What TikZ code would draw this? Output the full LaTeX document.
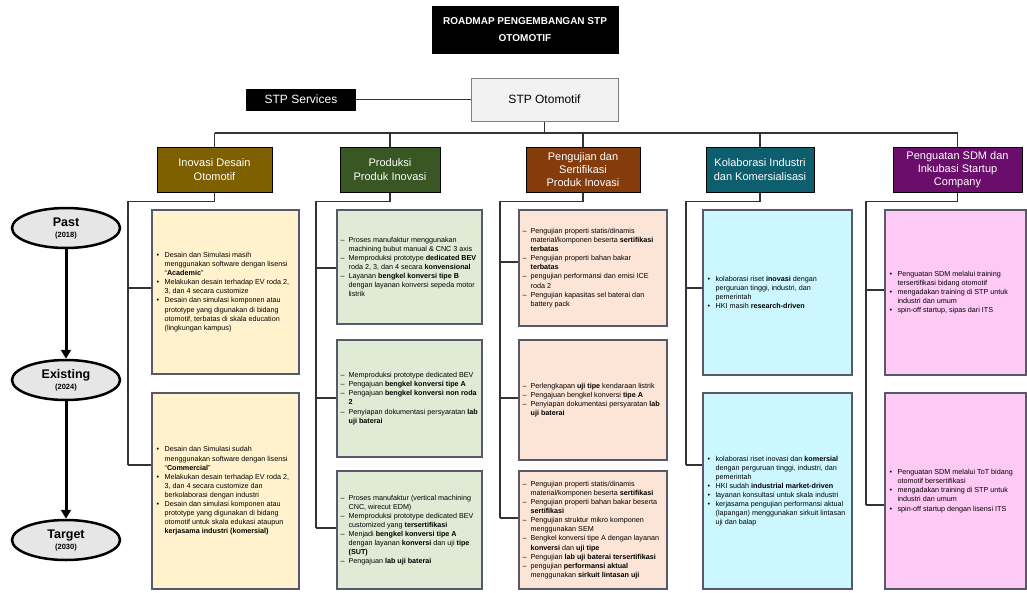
\documentclass[tikz,border=0pt]{standalone}
\usepackage{fontspec}
\setmainfont{Liberation Sans}
\usetikzlibrary{arrows.meta,shapes.geometric,calc}
\definecolor{linec}{HTML}{333333}
\definecolor{boxline}{HTML}{55596A}
\definecolor{hA}{HTML}{7F6000}
\definecolor{hB}{HTML}{385723}
\definecolor{hC}{HTML}{843C0C}
\definecolor{hD}{HTML}{0E5F6E}
\definecolor{hE}{HTML}{6B0E6B}
\definecolor{fA}{HTML}{FFF2CC}
\definecolor{fB}{HTML}{E0EBD6}
\definecolor{fC}{HTML}{FCE4D6}
\definecolor{fD}{HTML}{CCF7FF}
\definecolor{fE}{HTML}{FFC9F5}
\definecolor{erafill}{HTML}{E6E6E6}
\definecolor{stpfill}{HTML}{F2F2F2}
\newcommand\mybul{\makebox[8pt][l]{•}}
\newcommand\mydash{\makebox[8pt][l]{–}}
\newcommand\mycont{\hspace*{8pt}}
\tikzset{
  conn/.style={draw=linec, line width=1.3pt},
  cbox/.style={draw=boxline, line width=1.2pt, inner sep=0pt},
  ctext/.style={font=\fontsize{7.2}{9.1}\selectfont, align=left, inner sep=0pt, anchor=west},
  hdr/.style={draw=black, line width=1pt, text=white, inner sep=2pt,
    font=\fontsize{11}{13.2}\selectfont, align=center, minimum height=45},
  era/.style={ellipse, draw=black, line width=2.5pt, fill=erafill, minimum width=108,
    minimum height=40, inner sep=0pt, align=center},
  flow/.style={draw=black, line width=3pt, -{Triangle[length=9pt,width=10pt]}},
}
\begin{document}
\begin{tikzpicture}[x=1pt,y=-1pt]
\useasboundingbox (0,0) rectangle (1027,592);

% top
\node[fill=black, draw=black, text=white, minimum width=186, minimum height=47, inner sep=2pt,
  font=\bfseries\fontsize{10}{17}\selectfont, align=center] (title) at (525,29.5)
  {ROADMAP PENGEMBANGAN STP\\OTOMOTIF};
\node[fill=stpfill, draw=gray, line width=1pt, minimum width=147, minimum height=43,
  font=\fontsize{12}{14}\selectfont] (stp) at (544.5,99.5) {STP Otomotif};
\node[fill=black, text=white, minimum width=110, minimum height=22, inner sep=1pt,
  font=\fontsize{12}{14}\selectfont] (svc) at (301,99.5) {STP Services};
\draw[conn] (svc.east) -- (stp.west);

% headers
\node[hdr, fill=hA, minimum width=115] (h1) at (214.5,169.5) {Inovasi Desain\\Otomotif};
\node[hdr, fill=hB, minimum width=100] (h2) at (390,169.5) {Produksi\\Produk Inovasi};
\node[hdr, fill=hC, minimum width=114] (h3) at (583,169.5) {Pengujian dan\\Sertifikasi\\Produk Inovasi};
\node[hdr, fill=hD, minimum width=108] (h4) at (760,169.5) {Kolaborasi Industri\\dan Komersialisasi};
\node[hdr, fill=hE, minimum width=129] (h5) at (957.5,169.5) {Penguatan SDM dan\\Inkubasi Startup\\Company};

\coordinate (bus) at (544.5,133);
\draw[conn] (stp.south) -- (bus);
\draw[conn] (h1.north |- bus) -- (h5.north |- bus);
\foreach \i in {1,...,5} {\draw[conn] (h\i.north |- bus) -- (h\i.north);}

% timeline
\node[era] (past) at (66,228) {\fontsize{12.5}{13}\selectfont\bfseries Past\\[-1pt]\fontsize{7.5}{8}\selectfont\bfseries (2018)};
\node[era] (exist) at (66,380) {\fontsize{12.5}{13}\selectfont\bfseries Existing\\[-1pt]\fontsize{7.5}{8}\selectfont\bfseries (2024)};
\node[era] (target) at (66,540) {\fontsize{12.5}{13}\selectfont\bfseries Target\\[-1pt]\fontsize{7.5}{8}\selectfont\bfseries (2030)};
\draw[flow] (past.south) -- (exist.north);
\draw[flow] (exist.south) -- (target.north);

% column 1
\node[cbox, fill=fA, minimum width=147, minimum height=164] (b11) at (225.5,292) {};
\node[ctext] (t11) at ($(b11.west)+(5,0)$) {%
\mybul Desain dan Simulasi masih\\
\mycont menggunakan software dengan lisensi\\
\mycont “\textbf{Academic}”\\
\mybul Melakukan desain terhadap EV roda 2,\\
\mycont 3, dan 4 secara customize\\
\mybul Desain dan simulasi komponen atau\\
\mycont prototype yang digunakan di bidang\\
\mycont otomotif, terbatas di skala education\\
\mycont (lingkungan kampus)};
\node[cbox, fill=fA, minimum width=147, minimum height=196] (b12) at (225.5,491) {};
\node[ctext] (t12) at ($(b12.west)+(5,0)$) {%
\mybul Desain dan Simulasi sudah\\
\mycont menggunakan software dengan lisensi\\
\mycont “\textbf{Commercial}”\\
\mybul Melakukan desain terhadap EV roda 2,\\
\mycont 3, dan 4 secara customize dan\\
\mycont berkolaborasi dengan industri\\
\mybul Desain dan simulasi komponen atau\\
\mycont prototype yang digunakan di bidang\\
\mycont otomotif untuk skala edukasi ataupun\\
\mycont \textbf{kerjasama industri (komersial)}};

% column 2
\node[cbox, fill=fB, minimum width=145, minimum height=114] (b21) at (409.5,267) {};
\node[ctext] (t21) at ($(b21.west)+(4,0)$) {%
\mydash Proses manufaktur menggunakan\\
\mycont machining bubut manual \& CNC 3 axis\\
\mydash Memproduksi prototype \textbf{dedicated BEV}\\
\mycont roda 2, 3, dan 4 secara \textbf{konvensional}\\
\mydash Layanan \textbf{bengkel konversi tipe B}\\
\mycont dengan layanan konversi sepeda motor\\
\mycont listrik};
\node[cbox, fill=fB, minimum width=145, minimum height=117] (b22) at (409.5,398.5) {};
\node[ctext] (t22) at ($(b22.west)+(4,0)$) {%
\mydash Memproduksi prototype dedicated BEV\\
\mydash Pengajuan \textbf{bengkel konversi tipe A}\\
\mydash Pengajuan \textbf{bengkel konversi non roda}\\
\mycont \textbf{2}\\
\mydash Penyiapan dokumentasi persyaratan \textbf{lab}\\
\mycont \textbf{uji baterai}};
\node[cbox, fill=fB, minimum width=145, minimum height=118] (b23) at (409.5,530) {};
\node[ctext] (t23) at ($(b23.west)+(4,0)$) {%
\mydash Proses manufaktur (vertical machining\\
\mycont CNC, wirecut EDM)\\
\mydash Memproduksi prototype dedicated BEV\\
\mycont customized yang \textbf{tersertifikasi}\\
\mydash Menjadi \textbf{bengkel konversi tipe A}\\
\mycont dengan layanan \textbf{konversi} dan uji \textbf{tipe}\\
\mycont \textbf{(SUT)}\\
\mydash Pengajuan \textbf{lab uji baterai}};

% column 3
\node[cbox, fill=fC, minimum width=148, minimum height=116] (b31) at (593,268) {};
\node[ctext] (t31) at ($(b31.west)+(4,0)$) {%
\mydash Pengujian properti statis/dinamis\\
\mycont material/komponen beserta \textbf{sertifikasi}\\
\mycont \textbf{terbatas}\\
\mydash Pengujian properti bahan bakar\\
\mycont \textbf{terbatas}\\
\mydash pengujian performansi dan emisi ICE\\
\mycont roda 2\\
\mydash Pengujian kapasitas sel baterai dan\\
\mycont battery pack};
\node[cbox, fill=fC, minimum width=148, minimum height=120] (b32) at (593,400) {};
\node[ctext] (t32) at ($(b32.west)+(4,0)$) {%
\mydash Perlengkapan \textbf{uji tipe} kendaraan listrik\\
\mydash Pengajuan bengkel konversi \textbf{tipe A}\\
\mydash Penyiapan dokumentasi persyaratan \textbf{lab}\\
\mycont \textbf{uji baterai}};
\node[cbox, fill=fC, minimum width=148, minimum height=118] (b33) at (593,530) {};
\node[ctext] (t33) at ($(b33.west)+(4,0)$) {%
\mydash Pengujian properti statis/dinamis\\
\mycont material/komponen beserta \textbf{sertifikasi}\\
\mydash Pengujian properti bahan bakar beserta\\
\mycont \textbf{sertifikasi}\\
\mydash Pengujian struktur mikro komponen\\
\mycont menggunakan SEM\\
\mydash Bengkel konversi tipe A dengan layanan\\
\mycont \textbf{konversi} dan \textbf{uji tipe}\\
\mydash Pengujian \textbf{lab uji baterai tersertifikasi}\\
\mydash pengujian \textbf{performansi aktual}\\
\mycont menggunakan \textbf{sirkuit lintasan uji}};

% column 4
\node[cbox, fill=fD, minimum width=149, minimum height=165] (b41) at (777.5,292.5) {};
\node[ctext] (t41) at ($(b41.west)+(5,0)$) {%
\mybul kolaborasi riset \textbf{inovasi} dengan\\
\mycont perguruan tinggi, industri, dan\\
\mycont pemerintah\\
\mybul HKI masih \textbf{research-driven}};
\node[cbox, fill=fD, minimum width=149, minimum height=196] (b42) at (777.5,491) {};
\node[ctext] (t42) at ($(b42.west)+(5,0)$) {%
\mybul kolaborasi riset inovasi dan \textbf{komersial}\\
\mycont dengan perguruan tinggi, industri, dan\\
\mycont pemerintah\\
\mybul HKI sudah \textbf{industrial market-driven}\\
\mybul layanan konsultasi untuk skala industri\\
\mybul kerjasama pengujian performansi aktual\\
\mycont (lapangan) menggunakan sirkuit lintasan\\
\mycont uji dan balap};

% column 5
\node[cbox, fill=fE, minimum width=141, minimum height=165] (b51) at (955.5,292.5) {};
\node[ctext] (t51) at ($(b51.west)+(5,0)$) {%
\mybul Penguatan SDM melalui training\\
\mycont tersertifikasi bidang otomotif\\
\mybul mengadakan training di STP untuk\\
\mycont industri dan umum\\
\mybul spin-off startup, sipas dari ITS};
\node[cbox, fill=fE, minimum width=141, minimum height=196] (b52) at (955.5,491) {};
\node[ctext] (t52) at ($(b52.west)+(5,0)$) {%
\mybul Penguatan SDM melalui ToT bidang\\
\mycont otomotif bersertifikasi\\
\mybul mengadakan training di STP untuk\\
\mycont industri dan umum\\
\mybul spin-off startup dengan lisensi ITS};

% column connectors
\coordinate (j11) at (128,288); \coordinate (j12) at (128,465);
\coordinate (j21) at (316,268); \coordinate (j22) at (316,398); \coordinate (j23) at (316,528);
\coordinate (j31) at (500,262); \coordinate (j32) at (500,398); \coordinate (j33) at (500,518);
\coordinate (j41) at (686,288); \coordinate (j42) at (686,465);
\coordinate (j51) at (866,290); \coordinate (j52) at (866,505);
\draw[conn] (h1.south) -- ++(0,9) -| (j12);
\draw[conn] (h2.south) -- ++(0,9) -| (j23);
\draw[conn] (h3.south) -- ++(0,9) -| (j33);
\draw[conn] (h4.south) -- ++(0,9) -| (j42);
\draw[conn] (h5.south) -- ++(0,9) -| (j52);
\draw[conn] (j11) -- (j11 -| b11.west);
\draw[conn] (j12) -- (j12 -| b12.west);
\draw[conn] (j21) -- (j21 -| b21.west);
\draw[conn] (j22) -- (j22 -| b22.west);
\draw[conn] (j23) -- (j23 -| b23.west);
\draw[conn] (j31) -- (j31 -| b31.west);
\draw[conn] (j32) -- (j32 -| b32.west);
\draw[conn] (j33) -- (j33 -| b33.west);
\draw[conn] (j41) -- (j41 -| b41.west);
\draw[conn] (j42) -- (j42 -| b42.west);
\draw[conn] (j51) -- (j51 -| b51.west);
\draw[conn] (j52) -- (j52 -| b52.west);
\end{tikzpicture}
\end{document}
